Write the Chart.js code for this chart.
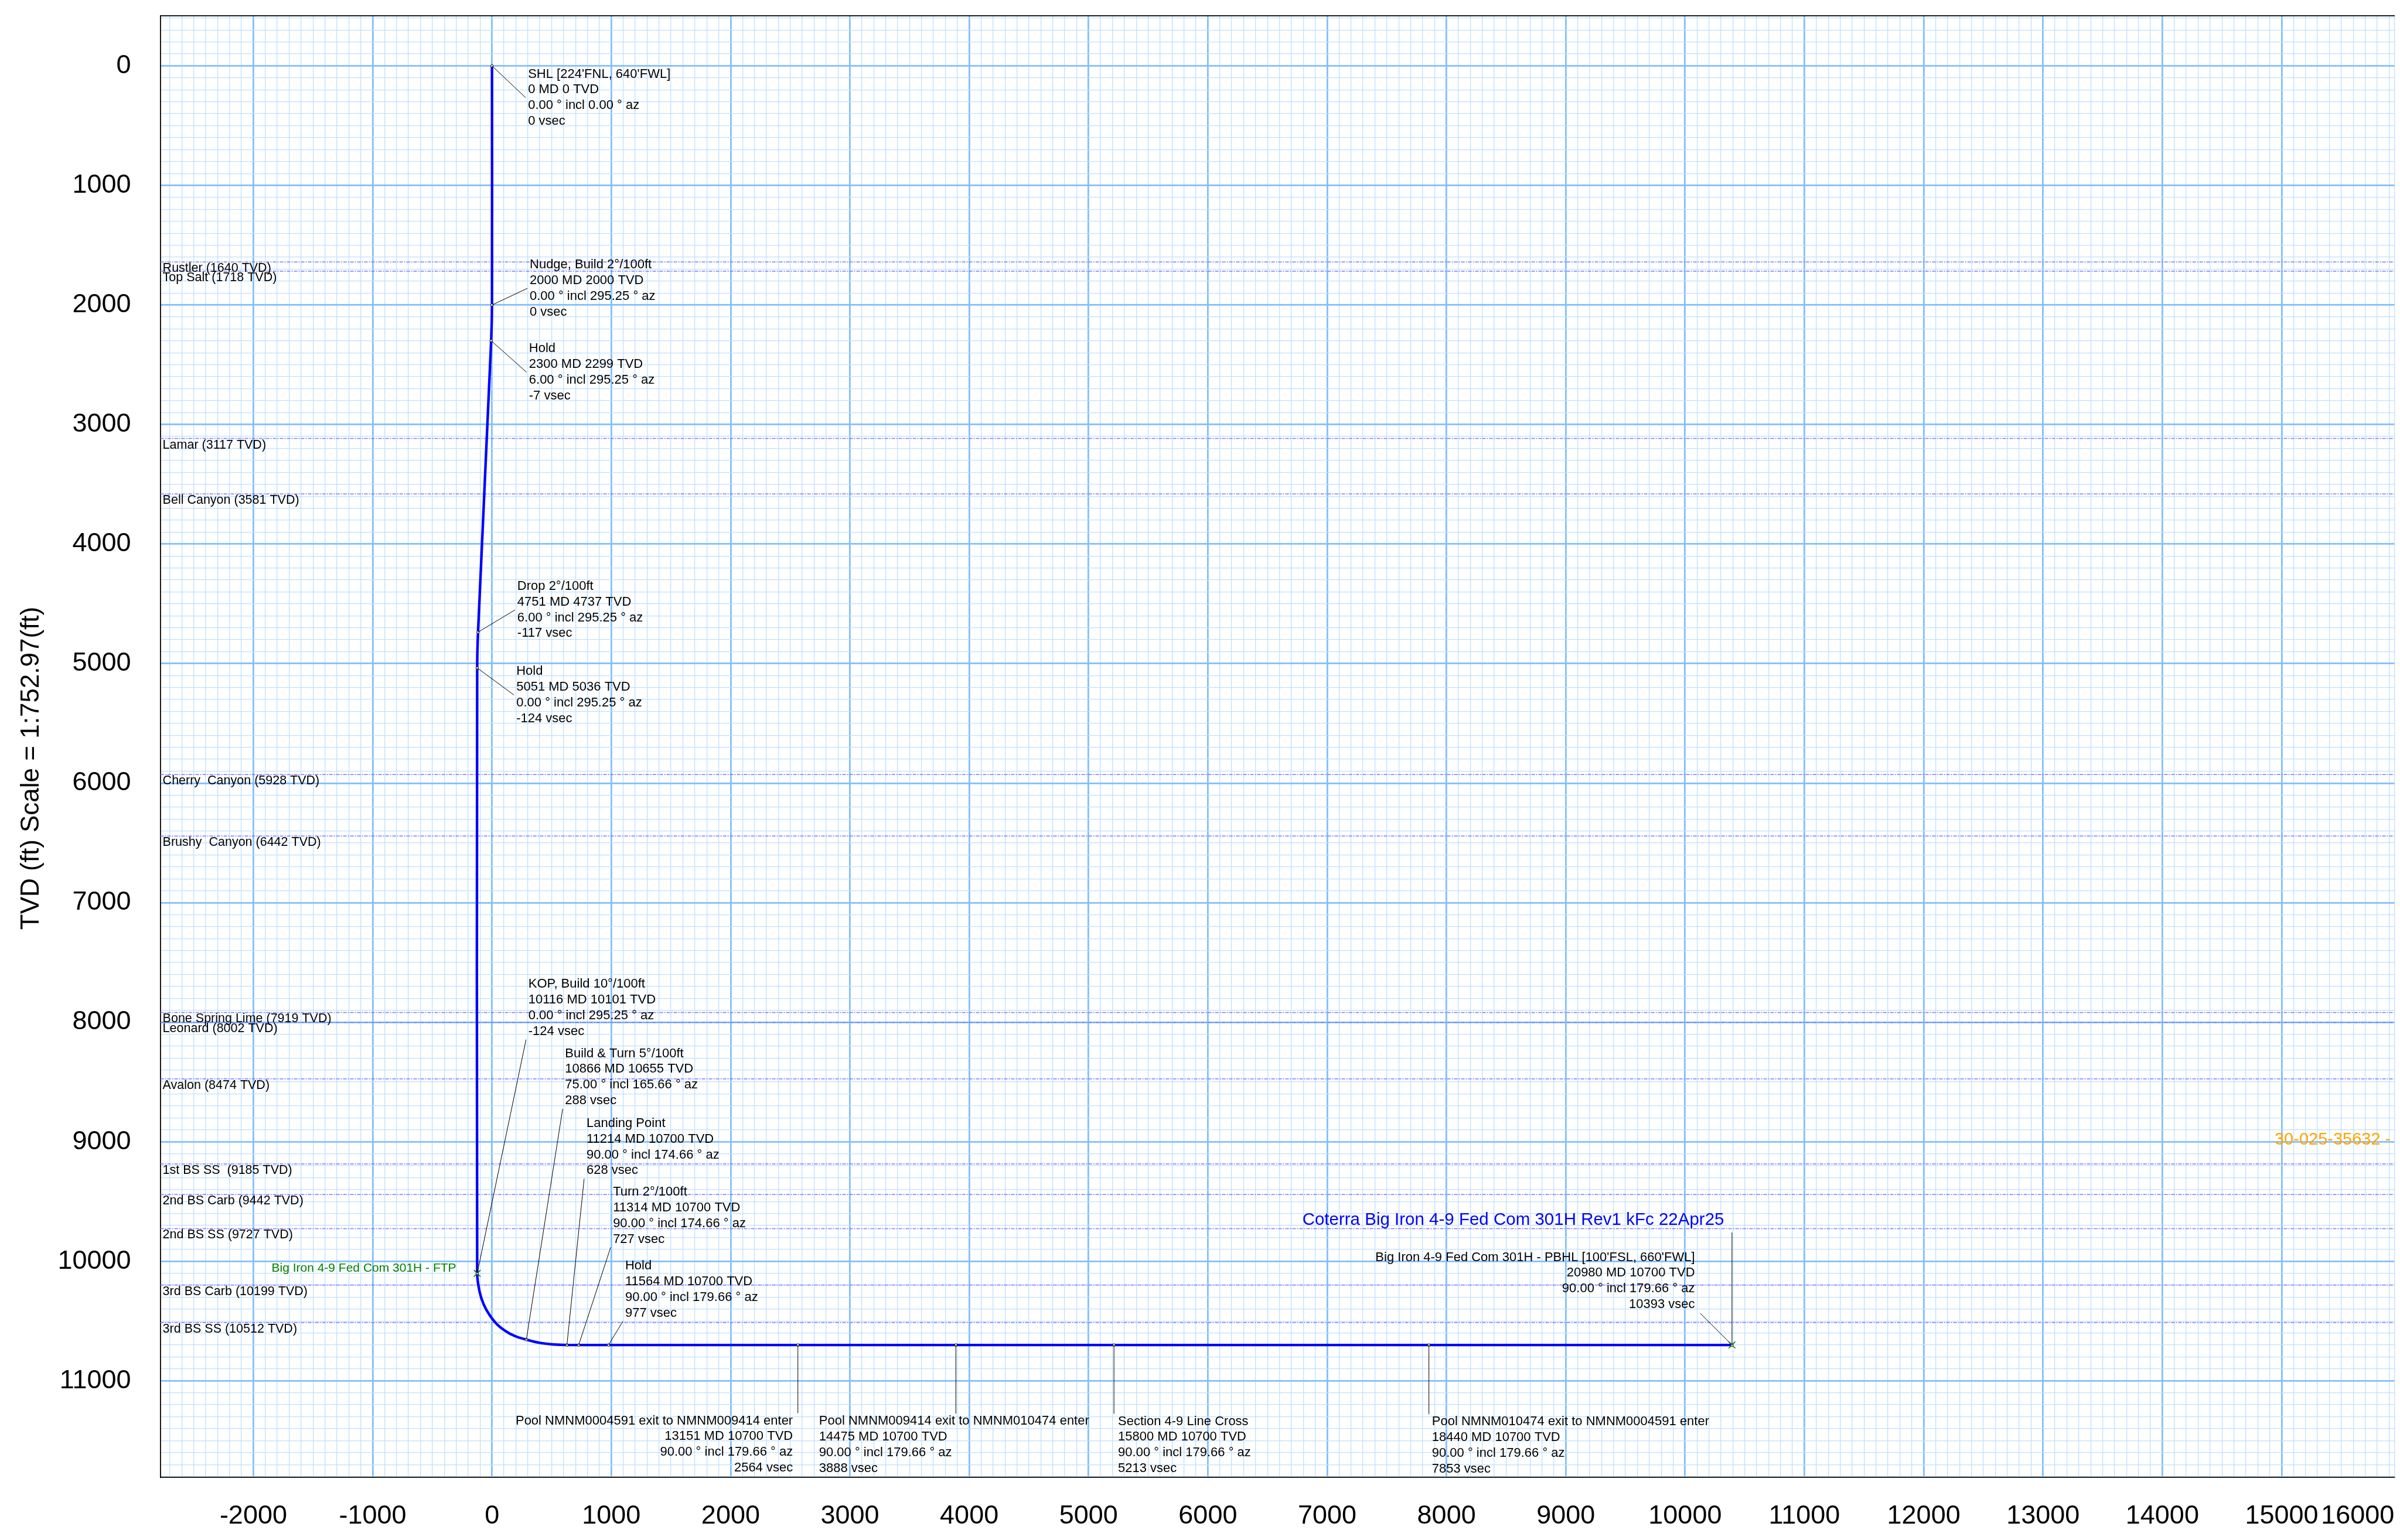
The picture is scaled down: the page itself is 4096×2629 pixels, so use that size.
<!DOCTYPE html>
<html>
<head>
<meta charset="utf-8">
<script src="https://cdn.jsdelivr.net/npm/chart.js@4"></script>
<style>
  html, body { margin: 0; padding: 0; background: #fff; overflow: hidden; }
  canvas { display: block; }
</style>
</head>
<body>
<canvas id="plot" width="4096" height="2629"></canvas>
<script>
// survey stations shown on the vertical section
const stationNames = ["SHL [224'FNL, 640'FWL]", 'Nudge, Build 2°/100ft', 'Hold', 'Drop 2°/100ft', 'Hold', 'KOP, Build 10°/100ft', 'Build & Turn 5°/100ft', 'Landing Point', 'Turn 2°/100ft', 'Hold', 'Pool NMNM0004591 exit to NMNM009414 enter', 'Pool NMNM009414 exit to NMNM010474 enter', 'Section 4-9 Line Cross', 'Pool NMNM010474 exit to NMNM0004591 enter', "Big Iron 4-9 Fed Com 301H - PBHL [100'FSL, 660'FWL]"]
const stationMd = [0, 2000, 2300, 4751, 5051, 10116, 10866, 11214, 11314, 11564, 13151, 14475, 15800, 18440, 20980]
const stationTvd = [0, 2000, 2299, 4737, 5036, 10101, 10655, 10700, 10700, 10700, 10700, 10700, 10700, 10700, 10700]
const stationIncl = [0, 0, 6, 6, 0, 0, 75, 90, 90, 90, 90, 90, 90, 90, 90]
const stationAz = [0, 295.25, 295.25, 295.25, 295.25, 295.25, 165.66, 174.66, 174.66, 179.66, 179.66, 179.66, 179.66, 179.66, 179.66]
const stationVsec = [0, 0, -7, -117, -124, -124, 288, 628, 727, 977, 2564, 3888, 5213, 7853, 10393]

// well path as drawn (vsec, tvd)
const pathVsec = [0, 0, -7, -117, -124, -124, -105, -70, -20, 50, 140, 210, 288, 400, 520, 628, 10393]
const pathTvd = [0, 2000, 2299, 4737, 5036, 10101, 10250, 10360, 10450, 10535, 10600, 10632, 10655, 10682, 10696, 10700, 10700]

// targets
const targetNames = ['Big Iron 4-9 Fed Com 301H - FTP', 'Big Iron 4-9 Fed Com 301H - PBHL']
const targetVsec = [-124, 10393]
const targetTvd = [10101, 10700]

// formation tops
const formationNames = ['Rustler', 'Top Salt', 'Lamar', 'Bell Canyon', 'Cherry  Canyon', 'Brushy  Canyon', 'Bone Spring Lime', 'Leonard', 'Avalon', '1st BS SS ', '2nd BS Carb', '2nd BS SS', '3rd BS Carb', '3rd BS SS']
const formationTvd = [1640, 1718, 3117, 3581, 5928, 6442, 7919, 8002, 8474, 9185, 9442, 9727, 10199, 10512]

const planName = 'Coterra Big Iron 4-9 Fed Com 301H Rev1 kFc 22Apr25'
const offsetWellName = '30-025-35632 -'

// axes
const xTickLabels = [-2000, -1000, 0, 1000, 2000, 3000, 4000, 5000, 6000, 7000, 8000, 9000, 10000, 11000, 12000, 13000, 14000, 15000, 16000]
const yTickLabels = [0, 1000, 2000, 3000, 4000, 5000, 6000, 7000, 8000, 9000, 10000, 11000]
const xMin = -2780, xMax = 15945
const yMin = -418, yMax = 11809

// label placement (anchor in section units: left/right edge, first line centre)
const labelLayout = [
    { x: 302, y: 69, align: 'left', leader: 'mid' },
    { x: 316, y: 1664, align: 'left', leader: 'mid' },
    { x: 310, y: 2366, align: 'left', leader: 'mid' },
    { x: 212, y: 4354, align: 'left', leader: 'mid' },
    { x: 204, y: 5066, align: 'left', leader: 'mid' },
    { x: 305, y: 7683, align: 'left', leader: 'corner' },
    { x: 612, y: 8262, align: 'left', leader: 'corner' },
    { x: 792, y: 8847, align: 'left', leader: 'corner' },
    { x: 1014, y: 9421, align: 'left', leader: 'corner' },
    { x: 1116, y: 10040, align: 'left', leader: 'corner' },
    { x: 2522, y: 11334, align: 'right', leader: 'drop' },
    { x: 2741, y: 11338, align: 'left', leader: 'drop' },
    { x: 5247, y: 11339, align: 'left', leader: 'drop' },
    { x: 7878, y: 11343, align: 'left', leader: 'drop' },
    { x: 10082, y: 9967, align: 'right', leader: 'cornerRight' }
]
const planLabelPos = { x: 6792, y: 9656 }
const ftpLabelPos = { x: -300, y: 10057 }
const offsetWellPos = { x: 14941, y: 8983 }

const FONT = '"Liberation Sans", Arial, sans-serif'
const LINE_H = 26.8
const MAJOR = '#80bfff'
const MINOR = '#c0e0ff'

Chart.defaults.font.family = FONT
Chart.defaults.color = '#000'

const xGrid = []
for (let v = Math.ceil(xMin / 100) * 100; v <= xMax; v += 100) xGrid.push(v)
xGrid.push(xMax)
const yGrid = []
for (let v = Math.ceil(yMin / 100) * 100; v <= yMax; v += 100) yGrid.push(v)

const toPoints = (xs, ys) => xs.map((v, i) => ({ x: v, y: ys[i] }))

function drawLine(ctx, x1, y1, x2, y2) {
    ctx.beginPath()
    ctx.moveTo(x1, y1)
    ctx.lineTo(x2, y2)
    ctx.stroke()
}

// text, leader lines and formation names
const annotate = {
    id: 'annotate',
    afterDatasetsDraw(chart) {
        const { ctx, chartArea } = chart
        const x = chart.scales.x, y = chart.scales.y
        ctx.save()
        ctx.textBaseline = 'middle'

        ctx.font = '21.5px ' + FONT
        ctx.fillStyle = '#000'
        ctx.textAlign = 'left'
        formationNames.forEach((name, i) => {
            ctx.fillText(`${name} (${formationTvd[i]} TVD)`, chartArea.left + 4, y.getPixelForValue(formationTvd[i]) + 11)
        })

        ctx.font = '22px ' + FONT
        ctx.strokeStyle = '#000'
        ctx.lineWidth = 1
        stationNames.forEach((name, i) => {
            const lay = labelLayout[i]
            const px = x.getPixelForValue(stationVsec[i])
            const py = y.getPixelForValue(stationTvd[i])
            const tx = x.getPixelForValue(lay.x)
            const ty = y.getPixelForValue(lay.y)
            const lines = [
                name,
                `${stationMd[i]} MD ${stationTvd[i]} TVD`,
                `${stationIncl[i].toFixed(2)} ° incl ${stationAz[i].toFixed(2)} ° az`,
                `${stationVsec[i]} vsec`
            ]
            let ex, ey
            if (lay.leader === 'mid') { ex = tx - 4; ey = ty + 1.5 * LINE_H }
            else if (lay.leader === 'corner') { ex = tx - 4; ey = ty + 3 * LINE_H + 14 }
            else if (lay.leader === 'drop') { ex = px; ey = ty - 13 }
            else { ex = tx + 9; ey = ty + 3 * LINE_H + 15 }
            drawLine(ctx, px, py, ex, ey)
            ctx.textAlign = lay.align
            lines.forEach((t, k) => ctx.fillText(t, tx, ty + k * LINE_H))
        })

        // plan name over the PBHL
        const last = stationVsec.length - 1
        const bx = x.getPixelForValue(stationVsec[last])
        const by = y.getPixelForValue(stationTvd[last])
        const planY = y.getPixelForValue(planLabelPos.y)
        drawLine(ctx, bx, by, bx, planY + 21)
        ctx.font = '29.5px ' + FONT
        ctx.fillStyle = '#0000ff'
        ctx.textAlign = 'left'
        ctx.fillText(planName, x.getPixelForValue(planLabelPos.x), planY)

        ctx.font = '21px ' + FONT
        ctx.fillStyle = '#008000'
        ctx.textAlign = 'right'
        ctx.fillText(targetNames[0], x.getPixelForValue(ftpLabelPos.x), y.getPixelForValue(ftpLabelPos.y))

        ctx.font = '29px ' + FONT
        ctx.fillStyle = '#ffa500'
        ctx.textAlign = 'left'
        ctx.fillText(offsetWellName, x.getPixelForValue(offsetWellPos.x), y.getPixelForValue(offsetWellPos.y))
        ctx.restore()
    }
}

const formationSets = formationTvd.map(tvd => ({
    data: [{ x: xMin, y: tvd }, { x: xMax, y: tvd }],
    showLine: true,
    borderColor: '#7878ff',
    borderWidth: 1.5,
    borderDash: [6, 2, 2, 2],
    pointRadius: 0,
    order: 3
}))

const gridColor = c => (c.tick && c.tick.value % 1000 === 0 ? MAJOR : MINOR)
const gridWidth = c => (c.tick && c.tick.value % 1000 === 0 ? 2.8 : 1.3)

new Chart(document.getElementById('plot'), {
    type: 'scatter',
    data: {
        datasets: [
            {
                data: toPoints(stationVsec, stationTvd),
                pointRadius: 2.2,
                pointBackgroundColor: '#fff',
                pointBorderColor: '#000',
                pointBorderWidth: 1,
                order: 0
            },
            {
                data: toPoints(targetVsec, targetTvd),
                pointStyle: 'crossRot',
                pointRadius: 8,
                pointBorderColor: '#008000',
                pointBorderWidth: 1.6,
                order: 1
            },
            {
                data: toPoints(pathVsec, pathTvd),
                showLine: true,
                borderColor: '#0000ff',
                borderWidth: 4.4,
                pointRadius: 0,
                tension: 0.3,
                order: 2
            },
            ...formationSets
        ]
    },
    options: {
        responsive: false,
        animation: false,
        devicePixelRatio: 1,
        events: [],
        layout: { padding: 0 },
        plugins: { legend: { display: false }, tooltip: { enabled: false } },
        scales: {
            x: {
                type: 'linear',
                position: 'bottom',
                min: xMin,
                max: xMax,
                afterBuildTicks: s => { s.ticks = xGrid.map(v => ({ value: v })) },
                afterFit: s => { s.height = 106.6; s.paddingLeft = 0; s.paddingRight = 0 },
                grid: { color: gridColor, lineWidth: gridWidth, drawTicks: false },
                border: { color: '#000', width: 1.8 },
                ticks: {
                    autoSkip: false,
                    maxRotation: 0,
                    minRotation: 0,
                    align: 'inner',
                    padding: 39,
                    font: { size: 45 },
                    color: '#000',
                    callback: (v, i, ticks) => {
                        if (i === ticks.length - 1) return String(xTickLabels[xTickLabels.length - 1])
                        return xTickLabels.includes(v) ? String(v) : ''
                    }
                }
            },
            x2: {
                type: 'linear',
                position: 'top',
                min: xMin,
                max: xMax,
                afterFit: s => { s.height = 27.2 },
                grid: { display: false, drawTicks: false },
                border: { color: '#000', width: 1.8 },
                ticks: { display: false }
            },
            y: {
                type: 'linear',
                position: 'left',
                reverse: true,
                min: yMin,
                max: yMax,
                afterBuildTicks: s => { s.ticks = yGrid.map(v => ({ value: v })) },
                afterFit: s => { s.width = 273.6; s.paddingTop = 0; s.paddingBottom = 0 },
                grid: { color: gridColor, lineWidth: gridWidth, drawTicks: false },
                border: { color: '#000', width: 1.8 },
                title: {
                    display: true,
                    // trailing spaces nudge the text down to where the original sits
                    text: 'TVD (ft) Scale = 1:752.97(ft)      ',
                    font: { size: 44 },
                    color: '#000',
                    padding: { top: 27, bottom: 0 }
                },
                ticks: {
                    autoSkip: false,
                    padding: 50,
                    font: { size: 45 },
                    color: '#000',
                    callback: v => (yTickLabels.includes(v) ? String(v) : '')
                }
            }
        }
    },
    plugins: [annotate]
})
</script>
</body>
</html>
